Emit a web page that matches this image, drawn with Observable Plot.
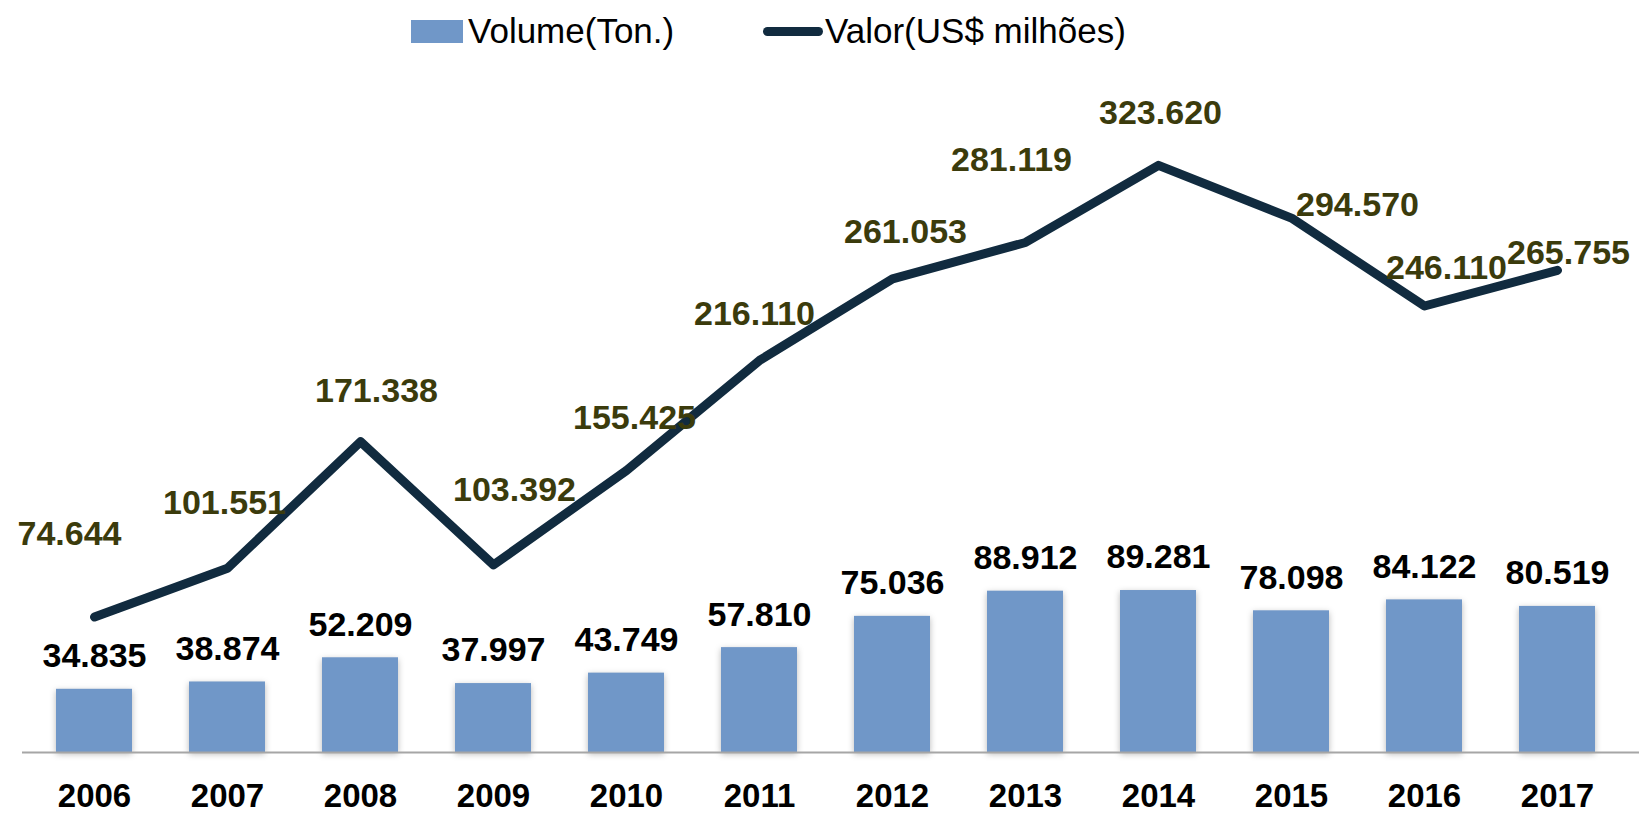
<!DOCTYPE html>
<html>
<head>
<meta charset="utf-8">
<script src="https://cdn.jsdelivr.net/npm/d3@7"></script>
<script src="https://cdn.jsdelivr.net/npm/@observablehq/plot@0.6"></script>
<style>
  html, body { margin: 0; padding: 0; background: #fff; }
  #wrap { width: 1639px; height: 815px; position: relative; overflow: hidden; }
  #legend { position: relative; width: 1639px; height: 62px; font-family: "Liberation Sans", Arial, sans-serif; font-size: 35px; color: #000; }
  #legend .sw { position: absolute; }
  #legend .lbl { position: absolute; line-height: 35px; white-space: nowrap; }
  #chart svg { display: block; }
  g[aria-label="bar"] { filter: drop-shadow(0px 2px 3px rgba(0,0,0,0.28)); }
</style>
</head>
<body>
<div id="wrap">
  <div id="legend"></div>
  <div id="chart"></div>
</div>
<script>
// ---- data ----
const years = ["2006","2007","2008","2009","2010","2011","2012","2013","2014","2015","2016","2017"];
const volume = [34.835, 38.874, 52.209, 37.997, 43.749, 57.810, 75.036, 88.912, 89.281, 78.098, 84.122, 80.519];
const valor = [74.644, 101.551, 171.338, 103.392, 155.425, 216.110, 261.053, 281.119, 323.620, 294.570, 246.110, 265.755];
const seriesNames = ["Volume(Ton.)", "Valor(US$ milhões)"];

// ---- styling ----
const barColor = "#7097c8";
const lineColor = "#112b3f";
const valorLabelColor = "#3b3b0c";
// per-label placement nudges (px), as in the original's manually placed labels
const labelNudge = {
  "2006": [-25, -83], "2007": [-3, -65], "2008": [16, -51], "2009": [21, -75],
  "2010": [8, -52], "2011": [-5, -46], "2012": [13, -47], "2013": [-14, -82],
  "2014": [2, -52], "2015": [66, -13], "2016": [22, -38], "2017": [11, -17]
};

const data = years.map((year, i) => ({year, volume: volume[i], valor: valor[i]}));
const fmt = v => v.toFixed(3);

// legend
const legend = document.getElementById("legend");
legend.innerHTML = `
  <div class="sw" style="left:411px;top:20px;width:52px;height:23px;background:${barColor}"></div>
  <div class="lbl" style="left:468px;top:13px">${seriesNames[0]}</div>
  <div class="sw" style="left:763px;top:27px;width:60px;height:9px;border-radius:4.5px;background:${lineColor}"></div>
  <div class="lbl" style="left:825px;top:13px">${seriesNames[1]}</div>
`;

const chart = Plot.plot({
  width: 1639,
  height: 753,
  marginTop: 55,
  marginBottom: 63,
  marginLeft: 22,
  marginRight: 0,
  style: {fontFamily: "'Liberation Sans', Arial, sans-serif", fontWeight: "bold", fontSize: "33px", background: "white", overflow: "visible"},
  x: {type: "band", domain: years, paddingInner: 0.432, paddingOuter: 0.257, align: 0.43, label: null},
  y: {domain: [0, 350], axis: null},
  marks: [
    Plot.barY(data, {x: "year", y: "volume", fill: barColor}),
    Plot.ruleY([0], {stroke: "#a6a6a6", strokeWidth: 2}),
    Plot.lineY(data, {x: "year", y: "valor", stroke: lineColor, strokeWidth: 9, strokeLinecap: "round", strokeLinejoin: "round"}),
    Plot.text(data, {x: "year", y: "volume", text: d => fmt(d.volume), dy: -33, lineAnchor: "middle", fill: "#000", fontSize: 34, fontWeight: "bold"}),
    ...years.map(yr => Plot.text(data, {
      filter: d => d.year === yr,
      x: "year", y: "valor", text: d => fmt(d.valor),
      dx: labelNudge[yr][0], dy: labelNudge[yr][1],
      lineAnchor: "middle", fill: valorLabelColor, fontSize: 34, fontWeight: "bold"
    })),
    Plot.axisX({tickSize: 0, tickPadding: 31, fontSize: 33, fontWeight: "bold", fill: "#000", label: null})
  ]
});
document.getElementById("chart").appendChild(chart);
</script>
</body>
</html>
